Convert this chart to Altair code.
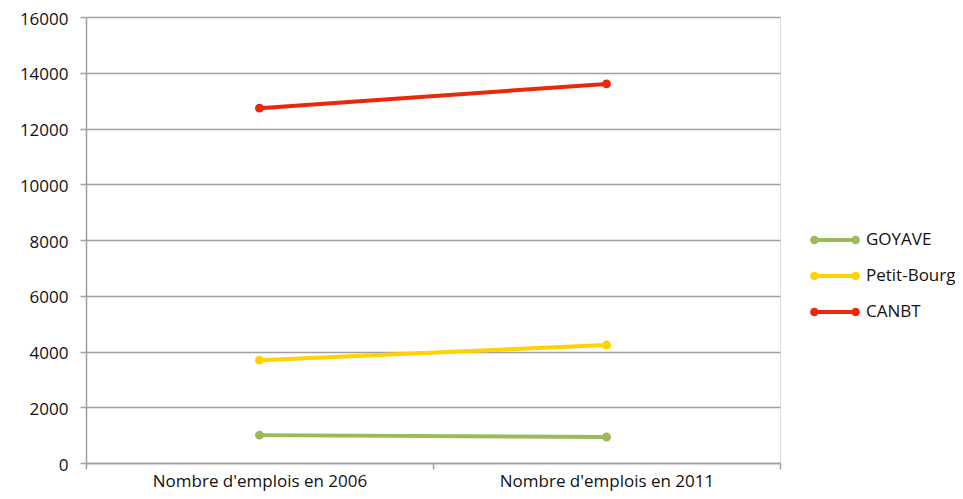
import altair as alt
import pandas as pd

categories = ["Nombre d'emplois en 2006", "Nombre d'emplois en 2011"]
series = ["GOYAVE", "Petit-Bourg", "CANBT"]
goyave = [1000, 930]
petit_bourg = [3690, 4230]
canbt = [12730, 13600]
colors = ["#9BBB59", "#FFD200", "#E8290B"]

rows = []
for name, vals in zip(series, [goyave, petit_bourg, canbt]):
    for c, v in zip(categories, vals):
        rows.append({"cat": c, "serie": name, "val": v})
df = pd.DataFrame(rows)

FONT = "Open Sans"
FS = 17
legend_path = ("M -0.9,0 L 0.9,0 "
               "M -1.0,0 a 0.1,0.1 0 1,0 0.2,0 a 0.1,0.1 0 1,0 -0.2,0 "
               "M 0.8,0 a 0.1,0.1 0 1,0 0.2,0 a 0.1,0.1 0 1,0 -0.2,0")

x = alt.X("cat:N", sort=categories, title=None,
          scale=alt.Scale(type="band", paddingInner=0, paddingOuter=0),
          bandPosition=0.5,
          axis=alt.Axis(labelAngle=0, tickBand="extent", domainColor="#A0A0A0",
                        domainWidth=1.5, tickColor="#A0A0A0", tickWidth=1.5,
                        tickSize=6, labelFont=FONT, labelFontSize=FS,
                        labelLimit=400,
                        labelColor="#111111", labelPadding=4, grid=False))
y = alt.Y("val:Q", title=None,
          scale=alt.Scale(domain=[0, 16000], nice=False),
          axis=alt.Axis(values=list(range(0, 16001, 2000)), format="d",
                        domainColor="#A0A0A0", domainWidth=1.5,
                        tickColor="#A0A0A0", tickWidth=1.5, tickSize=6,
                        gridColor="#A0A0A0", gridWidth=1.5,
                        labelFont=FONT, labelFontSize=FS, labelColor="#111111",
                        labelPadding=12, labelOffset=2))
color = alt.Color("serie:N", sort=series, title=None,
                  scale=alt.Scale(domain=series, range=colors),
                  legend=alt.Legend(orient="none", legendX=724, legendY=198,
                                    symbolType=legend_path, symbolSize=2100,
                                    symbolStrokeWidth=4, labelFont=FONT,
                                    labelFontSize=FS, labelColor="#111111",
                                    rowPadding=-10, labelOffset=6))

base = alt.Chart(df).encode(x=x, y=y, color=color)
lines = base.mark_line(strokeWidth=4)
points = base.mark_point(filled=True, size=80, opacity=1)

chart = (lines + points).properties(
    width=694, height=446,
    autosize=alt.AutoSizeParams(type="none"),
    padding={"left": 78, "top": 9, "right": 175, "bottom": 28},
).configure_view(stroke=None).configure(background="white")

chart.save("out.html", embed_options={"renderer": "svg", "actions": False})
